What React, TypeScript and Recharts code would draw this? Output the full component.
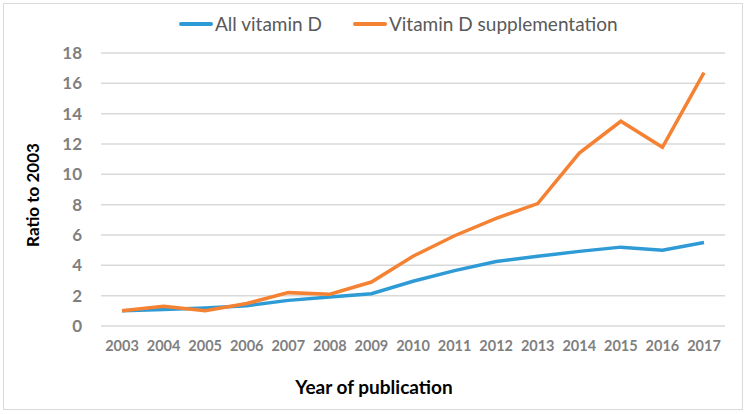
import { LineChart, Line, XAxis, YAxis, CartesianGrid, Legend } from "recharts";

const years = ["2003", "2004", "2005", "2006", "2007", "2008", "2009", "2010", "2011", "2012", "2013", "2014", "2015", "2016", "2017"];
const allVitaminD = [1, 1.08, 1.19, 1.34, 1.69, 1.91, 2.13, 2.95, 3.65, 4.25, 4.6, 4.92, 5.2, 5.0, 5.5];
const supplementation = [1, 1.3, 1.0, 1.48, 2.2, 2.1, 2.9, 4.6, 5.95, 7.1, 8.07, 11.4, 13.5, 11.78, 16.7];
const yTicks = [0, 2, 4, 6, 8, 10, 12, 14, 16, 18];

const data = years.map((y, i) => ({ year: y, all: allVitaminD[i], supp: supplementation[i] }));

const font = "Lato, 'Open Sans', sans-serif";
const xTickStyle = { fill: "#7f7f7f", fontSize: 14.5, fontWeight: 700, fontFamily: font };
const yTickStyle = { fill: "#7f7f7f", fontSize: 17, fontWeight: 700, fontFamily: font };

function LegendBox({ payload }: any) {
  return (
    <div style={{ display: "flex", gap: 31, fontFamily: font, fontSize: 19, color: "#595959" }}>
      {(payload || []).map((p: any) => (
        <div key={p.value} style={{ display: "flex", alignItems: "center" }}>
          <span style={{ display: "inline-block", width: 34, height: 4, borderRadius: 2, background: p.color, marginRight: 2 }} />
          {p.value}
        </div>
      ))}
    </div>
  );
}

export default function App() {
  return (
    <div style={{ position: "absolute", left: 0, top: 0, width: 747, height: 414, background: "#fff" }}>
      <div style={{ position: "absolute", left: 3, top: 3, width: 738, height: 405, border: "1px solid #d9d9d9" }} />
      <LineChart width={747} height={414} data={data} margin={{ top: 53, right: 22, left: 0, bottom: 0 }}>
        <CartesianGrid vertical={false} stroke="#d9d9d9" strokeWidth={1.5} />
        <XAxis
          dataKey="year"
          height={88}
          axisLine={false}
          tickLine={false}
          tickMargin={9}
          interval={0}
          padding={{ left: 21, right: 21 }}
          tick={xTickStyle}
          label={{
            content: () => (
              <text x={374} y={394} textAnchor="middle" fontFamily={font} fontWeight={700} fontSize={19} fill="#000">
                Year of publication
              </text>
            ),
          }}
        />
        <YAxis
          width={101}
          domain={[0, 18]}
          ticks={yTicks}
          axisLine={false}
          tickLine={false}
          tickMargin={13}
          tick={yTickStyle}
          label={{
            content: () => (
              <text x={39} y={195} textAnchor="middle" transform="rotate(-90 39 195)" fontFamily={font} fontWeight={700} fontSize={17} fill="#000">
                Ratio to 2003
              </text>
            ),
          }}
        />
        <Legend verticalAlign="middle" layout="horizontal" content={<LegendBox />} wrapperStyle={{ top: 12, left: 179, width: "auto" }} />
        <Line dataKey="all" name="All vitamin D" stroke="#2e9bd6" strokeWidth={3.5} dot={false} isAnimationActive={false} />
        <Line dataKey="supp" name="Vitamin D supplementation" stroke="#f58233" strokeWidth={3.5} dot={false} isAnimationActive={false} />
      </LineChart>
    </div>
  );
}
